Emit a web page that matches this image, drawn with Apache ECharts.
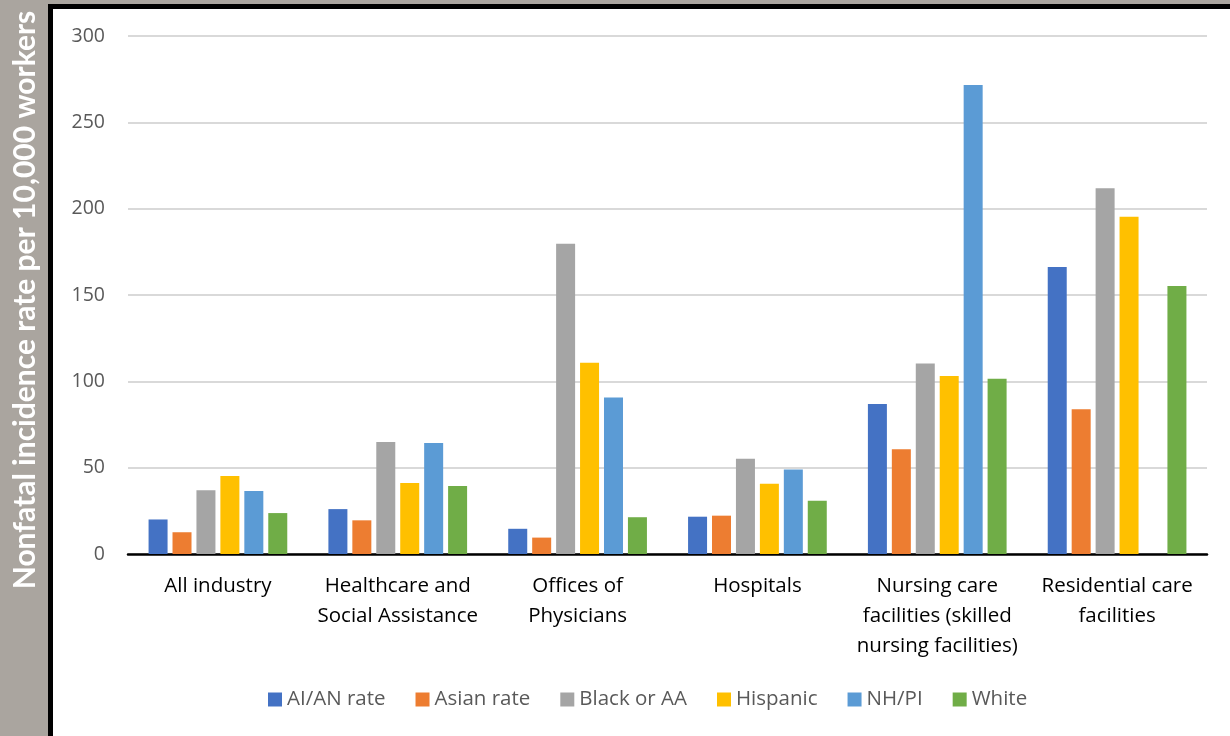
<!DOCTYPE html>
<html>
<head>
<meta charset="utf-8">
<script src="https://cdn.jsdelivr.net/npm/echarts@6/dist/echarts.min.js"></script>
<style>
  html, body { margin: 0; padding: 0; width: 1230px; height: 736px; background: #aaa59f; overflow: hidden; }
  #box { position: absolute; left: 48px; top: 4px; width: 1200px; height: 727px; background: #fff; border: 5px solid #000; }
  #chart { position: absolute; left: 0; top: 0; width: 1230px; height: 736px; }
</style>
</head>
<body>
<div id="box"></div>
<div id="chart"></div>
<script>
const categories = ['All industry', 'Healthcare and\nSocial Assistance', 'Offices of\nPhysicians', 'Hospitals', 'Nursing care\nfacilities (skilled\nnursing facilities)', 'Residential care\nfacilities'];
const seriesNames = ['AI/AN rate', 'Asian rate', 'Black or AA', 'Hispanic', 'NH/PI', 'White'];
const aianRate = [20, 26, 14.6, 21.6, 86.9, 166.2];
const asianRate = [12.6, 19.5, 9.5, 22.2, 60.6, 83.8];
const blackAA = [36.9, 64.9, 179.7, 55.2, 110.4, 211.8];
const hispanic = [45.2, 41.1, 110.8, 40.7, 103.1, 195.3];
const nhpi = [36.5, 64.3, 90.7, 48.9, 271.6, null];
const white = [23.7, 39.4, 21.3, 30.9, 101.5, 155.2];
const yTicks = [0, 50, 100, 150, 200, 250, 300];
const colors = ['#4472C4', '#ED7D31', '#A5A5A5', '#FFC000', '#5B9BD5', '#70AD47'];
const allValues = [aianRate, asianRate, blackAA, hispanic, nhpi, white];

const font = '"Open Sans", "Noto Sans", sans-serif';
const chart = echarts.init(document.getElementById('chart'), null, { renderer: 'canvas' });
chart.setOption({
  backgroundColor: 'transparent',
  animation: false,
  color: colors,
  textStyle: { fontFamily: font },
  grid: { left: 128, right: 23, top: 36, bottom: 182, containLabel: false },
  legend: {
    data: seriesNames,
    left: 263,
    top: 684,
    itemWidth: 14,
    itemHeight: 14,
    itemGap: 30,
    icon: 'rect',
    textStyle: { fontSize: 20.5, color: '#595959', fontFamily: font, padding: [0, 0, 0, 0] }
  },
  xAxis: {
    type: 'category',
    data: categories,
    axisLine: { lineStyle: { color: '#000', width: 2.5 } },
    axisTick: { show: false },
    axisLabel: { interval: 0, fontSize: 20.5, color: '#000', lineHeight: 30, margin: 17, fontFamily: font }
  },
  yAxis: {
    type: 'value',
    min: yTicks[0],
    max: yTicks[yTicks.length - 1],
    interval: 50,
    axisLine: { show: false },
    axisTick: { show: false },
    axisLabel: { fontSize: 19.5, color: '#595959', margin: 23, fontFamily: font },
    splitLine: { lineStyle: { color: '#d9d9d9', width: 2 } }
  },
  graphic: [{
    type: 'text',
    x: 25,
    y: 300,
    rotation: Math.PI / 2,
    style: {
      text: 'Nonfatal incidence rate per 10,000 workers',
      fill: '#ffffff',
      font: 'bold 30px Lato, "Open Sans", sans-serif',
      textAlign: 'center',
      textVerticalAlign: 'middle'
    }
  }],
  series: seriesNames.map((name, i) => ({
    name: name,
    type: 'bar',
    data: allValues[i],
    barWidth: 19,
    barGap: '26%',
    itemStyle: { color: colors[i] }
  }))
});
</script>
</body>
</html>
